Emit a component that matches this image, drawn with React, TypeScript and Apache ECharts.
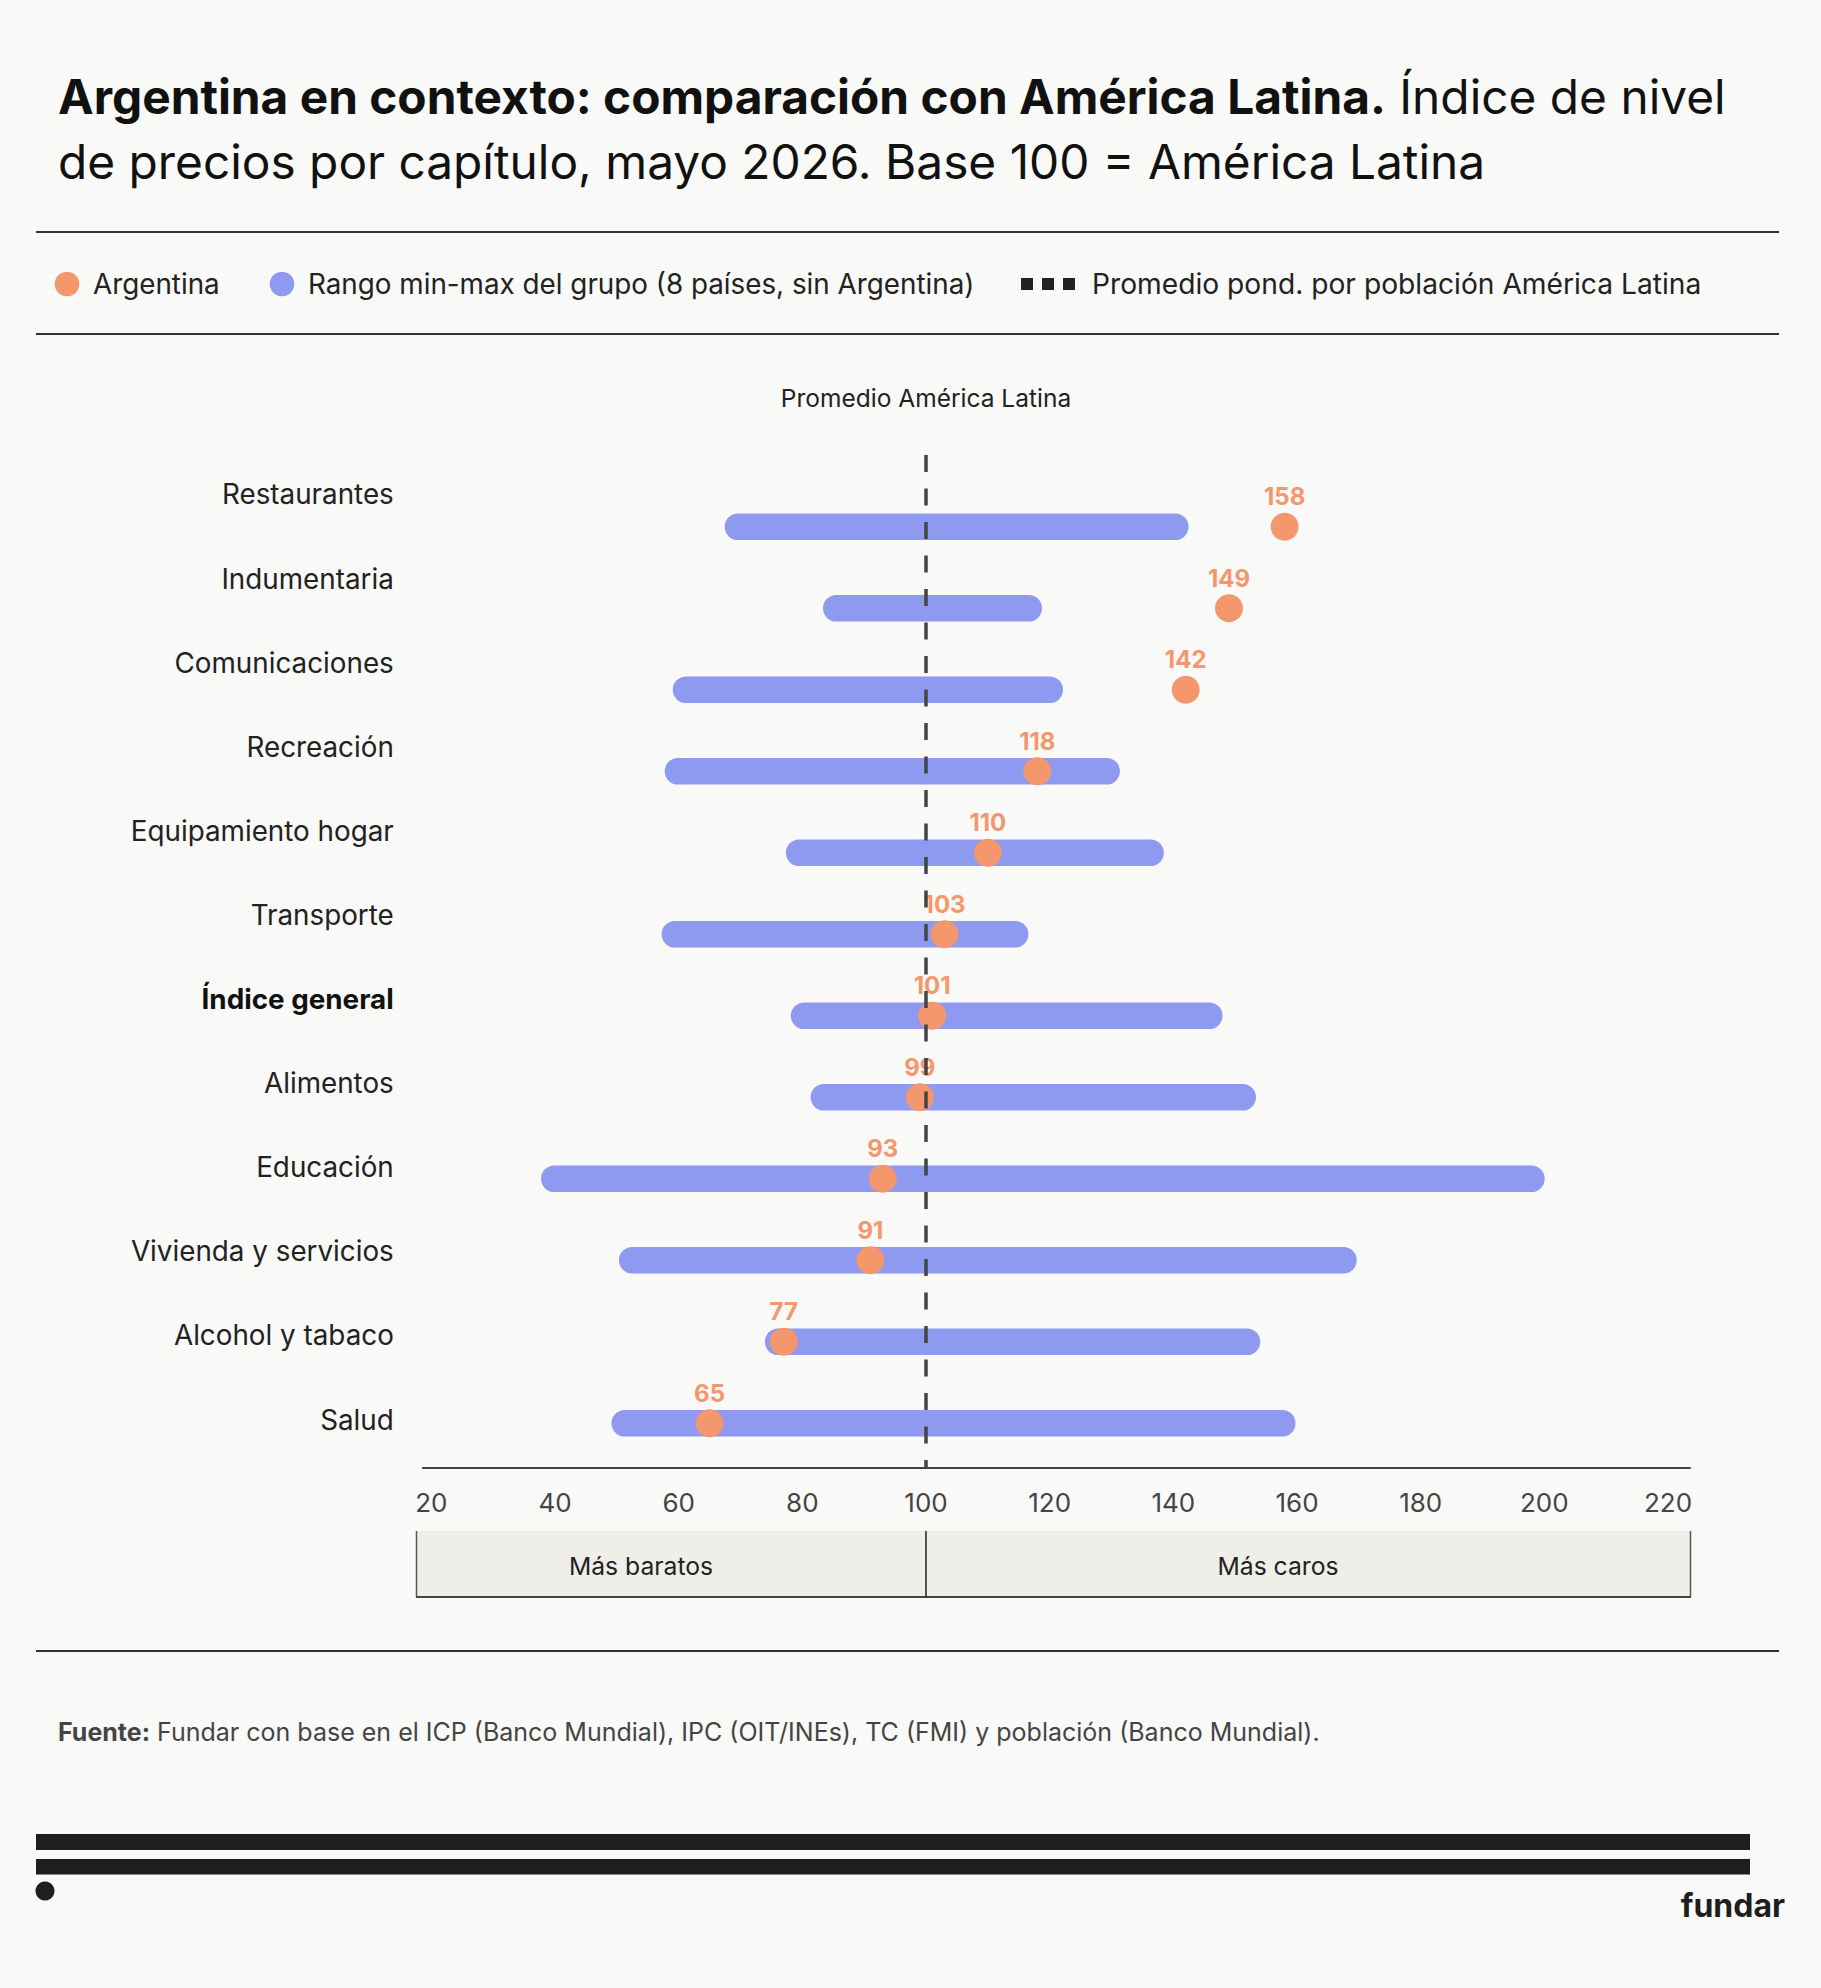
import React, { useEffect, useRef } from 'react';
import * as echarts from 'echarts';

const categories = [
  'Restaurantes',
  'Indumentaria',
  'Comunicaciones',
  'Recreación',
  'Equipamiento hogar',
  'Transporte',
  'Índice general',
  'Alimentos',
  'Educación',
  'Vivienda y servicios',
  'Alcohol y tabaco',
  'Salud',
];
const argentina = [158, 149, 142, 118, 110, 103, 101, 99, 93, 91, 77, 65];
const rangeMin = [69.6, 85.5, 61.2, 59.9, 79.5, 59.4, 80.3, 83.5, 39.9, 52.5, 76.1, 51.3];
const rangeMax = [140.3, 116.6, 120.0, 129.2, 136.3, 114.4, 145.8, 151.2, 197.9, 167.5, 151.9, 157.6];
const average = 100;
const xTicks = [20, 40, 60, 80, 100, 120, 140, 160, 180, 200, 220];

const FONT = 'Inter, "Noto Sans", sans-serif';
const BG = '#f9f9f7';
const ORANGE = '#f4976c';
const BLUE = '#8d9af0';
const INK = '#1e1e1e';

const App: React.FC = () => {
  const chartRef = useRef<HTMLDivElement>(null);

  useEffect(() => {
    document.body.style.margin = '0';
    if (!chartRef.current) return;
    const chart = echarts.init(chartRef.current, undefined, { renderer: 'svg' });

    const option: echarts.EChartsOption = {
      animation: false,
      backgroundColor: BG,
      grid: [
        { left: 422.8, top: 486, width: 1267.2, height: 978 },
        { left: 422.8, top: 452.4, width: 100, height: 1009.2 },
      ],
      xAxis: [
        {
          type: 'value',
          gridIndex: 0,
          min: 18.62,
          max: 223.56,
          offset: 4,
          splitLine: { show: false },
          axisTick: { show: false },
          axisLine: { show: true, lineStyle: { color: '#444', width: 2 } },
          axisLabel: {
            customValues: xTicks,
            margin: 21,
            fontSize: 26,
            color: '#444',
            fontFamily: FONT,
          },
        },
        { type: 'value', gridIndex: 1, show: false },
      ],
      yAxis: [
        {
          type: 'category',
          gridIndex: 0,
          data: categories,
          inverse: true,
          axisLine: { show: false },
          axisTick: { show: false },
          axisLabel: { show: false },
          splitLine: { show: false },
        },
        {
          type: 'category',
          gridIndex: 1,
          data: categories,
          inverse: true,
          axisLine: { show: false },
          axisTick: { show: false },
          splitLine: { show: false },
          axisLabel: {
            margin: 29,
            fontSize: 27.8,
            color: '#222',
            fontFamily: FONT,
            formatter: (v: string) => (v === 'Índice general' ? `{b|${v}}` : v),
            rich: {
              b: { fontSize: 27.8, fontWeight: 'bold', color: '#111', fontFamily: FONT },
            },
          },
        },
      ],
      series: [
        {
          name: 'Rango min-max del grupo (8 países, sin Argentina)',
          type: 'custom',
          xAxisIndex: 0,
          yAxisIndex: 0,
          z: 2,
          encode: { x: [1, 2], y: 0 },
          data: categories.map((_, i) => [i, rangeMin[i], rangeMax[i]]),
          renderItem: (params: any, api: any) => {
            const idx = api.value(0);
            const a = api.coord([api.value(1), idx]);
            const b = api.coord([api.value(2), idx]);
            return {
              type: 'line',
              shape: { x1: a[0], y1: a[1], x2: b[0], y2: b[1] },
              style: { stroke: BLUE, lineWidth: 26.7, lineCap: 'round' },
            };
          },
        },
        {
          name: 'Argentina',
          type: 'scatter',
          xAxisIndex: 0,
          yAxisIndex: 0,
          z: 3,
          symbol: 'circle',
          symbolSize: 28,
          itemStyle: { color: ORANGE, opacity: 1 },
          data: argentina.map((v, i) => [v, i]),
          label: {
            show: true,
            position: 'top',
            distance: 4,
            formatter: (p: any) => String(p.value[0]),
            color: ORANGE,
            fontSize: 24,
            fontWeight: 'bold',
            fontFamily: FONT,
          },
        },
      ],
    };

    chart.setOption(option);

    const x100 = chart.convertToPixel({ xAxisIndex: 0 }, average) as number;

    const graphic: any[] = [
      // title
      {
        type: 'text',
        x: 58,
        y: 64,
        style: {
          text:
            '{b|Argentina en contexto: comparación con América Latina.}{r| Índice de nivel}\n{r|de precios por capítulo, mayo 2026. Base 100 = América Latina}',
          verticalAlign: 'top',
          rich: {
            b: { fontSize: 47.8, fontWeight: 'bold', fontFamily: FONT, fill: '#111', lineHeight: 65 },
            r: { fontSize: 47.8, fontFamily: FONT, fill: '#111', lineHeight: 65 },
          },
        },
      },
      { type: 'rect', shape: { x: 36, y: 231, width: 1743, height: 2 }, style: { fill: '#333' } },
      { type: 'rect', shape: { x: 36, y: 333, width: 1743, height: 2 }, style: { fill: '#333' } },
      // legend
      { type: 'circle', shape: { cx: 67, cy: 284, r: 12.3 }, style: { fill: ORANGE } },
      {
        type: 'text',
        x: 93,
        y: 284,
        style: { text: 'Argentina', fontSize: 27.8, fontFamily: FONT, fill: '#222', verticalAlign: 'middle' },
      },
      { type: 'circle', shape: { cx: 282, cy: 284, r: 12.3 }, style: { fill: BLUE } },
      {
        type: 'text',
        x: 308,
        y: 284,
        style: {
          text: 'Rango min-max del grupo (8 países, sin Argentina)',
          fontSize: 27.8,
          fontFamily: FONT,
          fill: '#222',
          verticalAlign: 'middle',
        },
      },
      { type: 'rect', shape: { x: 1021, y: 278, width: 12, height: 12 }, style: { fill: '#222' } },
      { type: 'rect', shape: { x: 1042, y: 278, width: 12, height: 12 }, style: { fill: '#222' } },
      { type: 'rect', shape: { x: 1063, y: 278, width: 12, height: 12 }, style: { fill: '#222' } },
      {
        type: 'text',
        x: 1092,
        y: 284,
        style: {
          text: 'Promedio pond. por población América Latina',
          fontSize: 28.2,
          fontFamily: FONT,
          fill: '#222',
          verticalAlign: 'middle',
        },
      },
      // average line
      {
        type: 'text',
        x: x100,
        y: 398,
        style: {
          text: 'Promedio América Latina',
          fontSize: 24.5,
          fontFamily: FONT,
          fill: '#222',
          align: 'center',
          verticalAlign: 'middle',
        },
      },
      {
        type: 'line',
        z: 10,
        shape: { x1: x100, y1: 455, x2: x100, y2: 1468 },
        style: { stroke: '#444', lineWidth: 3.5, lineDash: [17, 16.5] },
      },
      // cheaper / more expensive box
      { type: 'rect', shape: { x: 416, y: 1531, width: 1275, height: 66 }, style: { fill: '#efeee9' } },
      { type: 'line', shape: { x1: 416.5, y1: 1531, x2: 416.5, y2: 1597 }, style: { stroke: '#555', lineWidth: 1.5 } },
      { type: 'line', shape: { x1: 1690.5, y1: 1531, x2: 1690.5, y2: 1597 }, style: { stroke: '#555', lineWidth: 1.5 } },
      { type: 'line', shape: { x1: 416, y1: 1597, x2: 1691, y2: 1597 }, style: { stroke: '#444', lineWidth: 2 } },
      { type: 'line', shape: { x1: x100, y1: 1531, x2: x100, y2: 1597 }, style: { stroke: '#222', lineWidth: 1.5 } },
      {
        type: 'text',
        x: 641,
        y: 1566,
        style: { text: 'Más baratos', fontSize: 24.7, fontFamily: FONT, fill: '#222', align: 'center', verticalAlign: 'middle' },
      },
      {
        type: 'text',
        x: 1278,
        y: 1566,
        style: { text: 'Más caros', fontSize: 24.7, fontFamily: FONT, fill: '#222', align: 'center', verticalAlign: 'middle' },
      },
      // footer
      { type: 'rect', shape: { x: 36, y: 1650, width: 1743, height: 2 }, style: { fill: '#333' } },
      {
        type: 'text',
        x: 58,
        y: 1732,
        style: {
          text: '{b|Fuente:}{r| Fundar con base en el ICP (Banco Mundial), IPC (OIT/INEs), TC (FMI) y población (Banco Mundial).}',
          verticalAlign: 'middle',
          rich: {
            b: { fontSize: 25, fontWeight: 'bold', fontFamily: FONT, fill: '#444' },
            r: { fontSize: 25, fontFamily: FONT, fill: '#444' },
          },
        },
      },
      { type: 'rect', shape: { x: 36, y: 1834, width: 1714, height: 16 }, style: { fill: INK } },
      { type: 'rect', shape: { x: 36, y: 1859, width: 1714, height: 15.5 }, style: { fill: INK } },
      { type: 'circle', shape: { cx: 45, cy: 1891, r: 9.5 }, style: { fill: INK } },
      {
        type: 'text',
        x: 1785,
        y: 1905,
        style: {
          text: 'fundar',
          fontSize: 32,
          fontWeight: 'bold',
          fontFamily: FONT,
          fill: INK,
          align: 'right',
          verticalAlign: 'middle',
        },
      },
    ];

    chart.setOption({ graphic });

    return () => {
      chart.dispose();
    };
  }, []);

  return <div ref={chartRef} style={{ width: '1821px', height: '1988px', background: BG }}></div>;
};

export default App;
